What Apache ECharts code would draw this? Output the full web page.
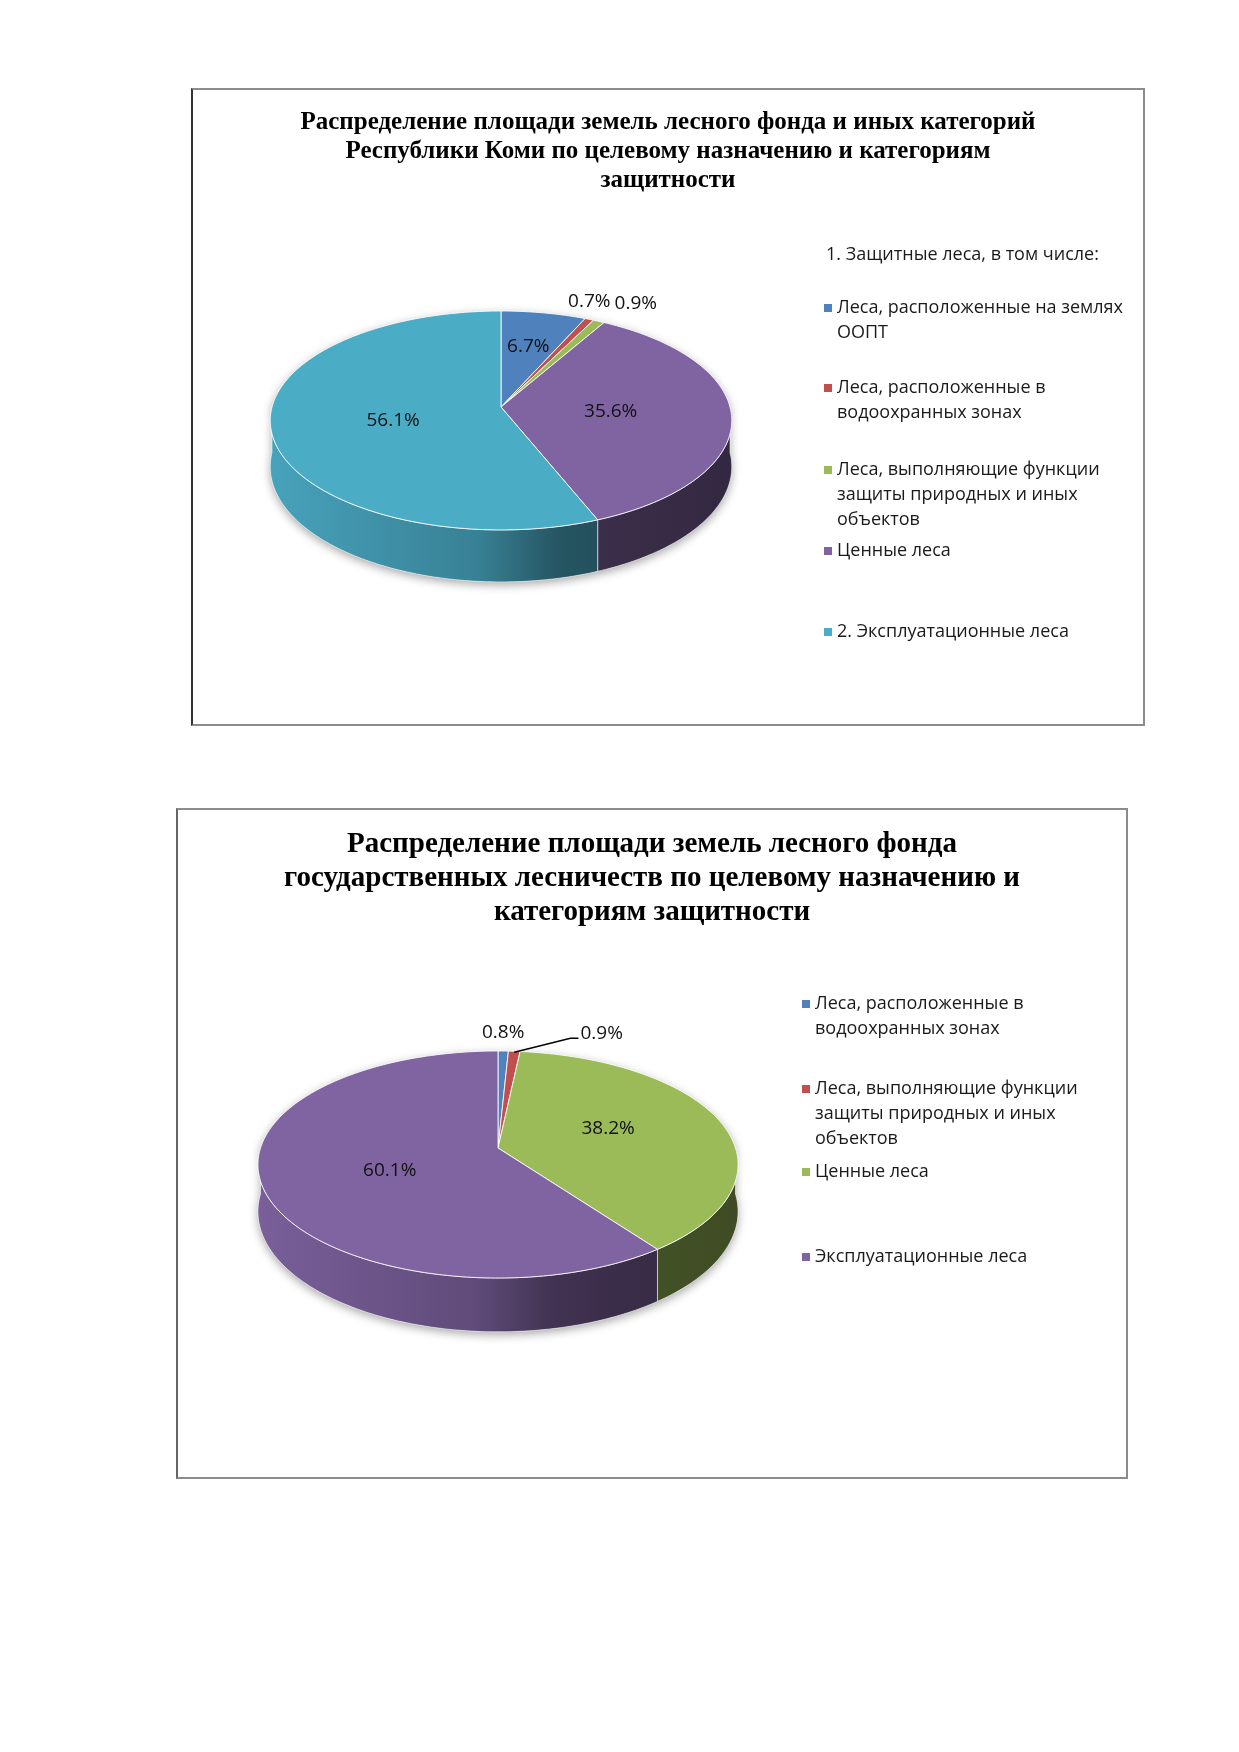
<!DOCTYPE html>
<html>
<head>
<meta charset="utf-8">
<script src="https://cdn.jsdelivr.net/npm/echarts@6/dist/echarts.min.js"></script>
<style>
  body { margin: 0; background: #fff; width: 1239px; height: 1752px; position: relative; }
  .frame { position: absolute; border: 2px solid #8c8c8c; }
</style>
</head>
<body>
<div id="chart1" class="frame" style="left:191px;top:88px;width:950px;height:634px;border-left-color:#333"></div>
<div id="chart2" class="frame" style="left:176px;top:808px;width:948px;height:667px;border-left-color:#666"></div>
<script>
// ---- data ----
const forestTitle = 'Распределение площади земель лесного фонда и иных категорий\nРеспублики Коми по целевому назначению и категориям\nзащитности';
const forestCategories = [
  '1. Защитные леса, в том числе:',
  'Леса, расположенные на землях ООПТ',
  'Леса, расположенные в водоохранных зонах',
  'Леса, выполняющие функции защиты природных и иных объектов',
  'Ценные леса',
  '2. Эксплуатационные леса'
];
const forestValues = [null, 6.7, 0.7, 0.9, 35.6, 56.1];

const stateTitle = 'Распределение площади земель лесного фонда\nгосударственных лесничеств по целевому назначению и\nкатегориям защитности';
const stateCategories = [
  'Леса, расположенные в водоохранных зонах',
  'Леса, выполняющие функции защиты природных и иных объектов',
  'Ценные леса',
  'Эксплуатационные леса'
];
const stateValues = [0.8, 0.9, 38.2, 60.1];

// ---- styles ----
const palette = ['#4F81BD', '#C0504D', '#9BBB59', '#8064A2', '#4BACC6'];
const LABEL_FONT = '19px "Open Sans"';
const LEGEND_FONT = '18px "Open Sans"';
const LEGEND_LH = 25;

const ctx = document.createElement('canvas').getContext('2d');
function textWidth(s, font) { ctx.font = font; return ctx.measureText(s).width; }
function wrap(text, width, font) {
  const lines = [];
  let line = '';
  text.split(' ').forEach(w => {
    const t = line ? line + ' ' + w : w;
    if (line && textWidth(t, font) > width) { lines.push(line); line = w; }
    else line = t;
  });
  lines.push(line);
  return lines;
}
function shade(hex, f) {
  const n = parseInt(hex.slice(1), 16);
  const c = [(n >> 16) & 255, (n >> 8) & 255, n & 255].map(x => Math.round(x * f));
  return 'rgb(' + c.join(',') + ')';
}

// theta: clockwise from 12 o'clock, r: fraction of radius; simple perspective tilt
function project(g, theta, r) {
  const u = Math.sin(theta) * r, v = Math.cos(theta) * r;
  const s = 1 / (1 + g.persp * v);
  return [g.cx + g.rx * u * s, g.cy - g.ry * v * s, s];
}
function arcPoints(g, a0, a1) {
  const n = Math.max(2, Math.ceil((a1 - a0) / (Math.PI / 180)) + 1);
  const pts = [];
  for (let k = 0; k < n; k++) pts.push(project(g, a0 + (a1 - a0) * k / (n - 1), 1));
  return pts;
}

function layoutPie(cfg) {
  const g = cfg.geo;
  const total = cfg.values.reduce((a, b) => a + (b || 0), 0);
  let acc = 0, ci = 0;
  const slices = cfg.values.map((v, i) => {
    const sl = { name: cfg.categories[i], value: v };
    if (v == null) { sl.color = 'rgba(0,0,0,0)'; return sl; }
    sl.color = palette[ci++];
    sl.a0 = acc / total * Math.PI * 2;
    acc += v;
    sl.a1 = acc / total * Math.PI * 2;
    const pct = v / total * 100;
    sl.text = pct.toFixed(1) + '%';
    const mid = (sl.a0 + sl.a1) / 2;
    if (pct >= 2) {
      const r = pct < 10 ? 0.57 : 0.48;
      const fy = pct < 10 ? 0.57 : 0.66;
      sl.label = [g.cx + g.rx * r * Math.sin(mid), g.cy - g.ry * fy * Math.cos(mid)];
    } else {
      const p = project(g, mid, 1);
      sl.outside = true;
      sl.anchor = [p[0], p[1] + 1];
      sl.label = [p[0], p[1] - 18];
    }
    return sl;
  });
  // push overlapping outside labels to the right
  let prevRight = -Infinity;
  slices.filter(s => s.outside).forEach(s => {
    const w = textWidth(s.text, LABEL_FONT);
    let left = s.label[0] - w / 2;
    if (left < prevRight + 4) {
      left = prevRight + 4 + (cfg.leaderPush || 0);
      s.leader = !!cfg.leaderPush;
    }
    s.label[0] = left + w / 2;
    s.left = left;
    prevRight = left + w;
  });
  return slices;
}

function renderSlice(g, sl) {
  const children = [];
  const lo = Math.max(sl.a0, Math.PI / 2), hi = Math.min(sl.a1, Math.PI * 1.5);
  if (hi > lo) {
    const top = arcPoints(g, lo, hi);
    const bottom = top.map(p => [p[0], p[1] + g.depth * p[2]]).reverse();
    children.push({
      type: 'polygon', z2: 1,
      shape: { points: top.map(p => [p[0], p[1]]).concat(bottom) },
      style: {
        fill: new echarts.graphic.LinearGradient(g.cx - g.rx * 1.02, 0, g.cx + g.rx * 1.02, 0, [
          { offset: 0, color: shade(sl.color, 0.95) },
          { offset: 0.45, color: shade(sl.color, 0.75) },
          { offset: 0.62, color: shade(sl.color, 0.5) },
          { offset: 0.75, color: shade(sl.color, 0.45) },
          { offset: 1, color: shade(sl.color, 0.4) }
        ], true),
        stroke: 'rgba(255,255,255,0.55)', lineWidth: 1
      }
    });
  }
  const face = [[g.cx, g.cy]].concat(arcPoints(g, sl.a0, sl.a1).map(p => [p[0], p[1]]));
  children.push({
    type: 'polygon', z2: 2,
    shape: { points: face },
    style: { fill: sl.color, stroke: 'rgba(255,255,255,0.85)', lineWidth: 1, lineJoin: 'round' }
  });
  if (sl.leader) {
    const ly = sl.label[1] + 5;
    children.push({
      type: 'polyline', z2: 4,
      shape: { points: [sl.anchor, [sl.left - 10, ly], [sl.left - 2, ly]] },
      style: { stroke: '#000', lineWidth: 1.5, fill: null }
    });
  }
  children.push({
    type: 'text', z2: 5,
    style: {
      text: sl.text, x: sl.label[0], y: sl.label[1],
      align: 'center', verticalAlign: 'middle', font: LABEL_FONT, fill: '#111'
    }
  });
  return { type: 'group', children };
}

function renderShadow(g) {
  const back = arcPoints(g, -Math.PI / 2, Math.PI / 2).map(p => [p[0], p[1]]);
  const front = arcPoints(g, Math.PI / 2, Math.PI * 1.5).map(p => [p[0], p[1] + g.depth * p[2]]);
  return {
    type: 'polygon', z2: 0,
    shape: { points: back.concat(front) },
    style: { fill: '#fff', shadowBlur: 10, shadowColor: 'rgba(0,0,0,0.35)', shadowOffsetY: 3 }
  };
}

// legend marker sitting on the first text line of a multi-line entry
function markerPath(lines) {
  const h = lines * LEGEND_LH, y = LEGEND_LH / 2 - 4;
  return 'path://M0,0h8v0.001h-8zM0,' + y + 'h8v8h-8zM0,' + h + 'h8v-0.001h-8z';
}

function buildOption(cfg) {
  const g = cfg.geo;
  const slices = layoutPie(cfg);
  const series = [{
    type: 'custom', coordinateSystem: 'none', silent: true,
    data: [0], renderItem: () => renderShadow(g)
  }];
  slices.forEach(sl => {
    series.push({
      type: 'custom', name: sl.name, coordinateSystem: 'none', silent: true,
      itemStyle: { color: sl.color },
      data: sl.value == null ? [] : [sl.value],
      renderItem: () => renderSlice(g, sl)
    });
  });
  const legend = slices.map((sl, i) => {
    const lines = wrap(sl.name, cfg.legendWrap, LEGEND_FONT);
    return {
      data: [{ name: sl.name, icon: markerPath(lines.length) }],
      formatter: () => lines.join('\n'),
      left: cfg.legendLeft - (sl.value == null ? 11 : 0),
      top: cfg.legendLines[i] - LEGEND_LH / 2,
      orient: 'vertical', padding: 0, itemGap: 0,
      itemWidth: 8, itemHeight: lines.length * LEGEND_LH,
      selectedMode: false,
      textStyle: { fontFamily: 'Open Sans', fontSize: 18, lineHeight: LEGEND_LH, color: '#1a1a1a' }
    };
  });
  return {
    animation: false,
    title: {
      text: cfg.title, left: 'center', top: cfg.titleTop, padding: 0,
      textStyle: {
        fontFamily: 'Liberation Serif', fontWeight: 'bold', color: '#000',
        fontSize: cfg.titleSize, lineHeight: cfg.titleLH
      }
    },
    legend,
    series
  };
}

const forestChart = echarts.init(document.getElementById('chart1'));
forestChart.setOption(buildOption({
  title: forestTitle, titleTop: 18, titleSize: 25, titleLH: 29,
  categories: forestCategories, values: forestValues,
  geo: { cx: 308, cy: 317, rx: 229, ry: 107.8, persp: 0.123, depth: 45.6 },
  legendLeft: 631, legendWrap: 300, legendLines: [165, 218, 298, 380, 461, 542]
}));

const stateChart = echarts.init(document.getElementById('chart2'));
stateChart.setOption(buildOption({
  title: stateTitle, titleTop: 18, titleSize: 29, titleLH: 34,
  categories: stateCategories, values: stateValues,
  geo: { cx: 320, cy: 338, rx: 237.5, ry: 111.1, persp: 0.1454, depth: 46 },
  legendLeft: 624, legendWrap: 300, leaderPush: 52,
  legendLines: [194, 279, 362, 447]
}));
</script>
</body>
</html>
